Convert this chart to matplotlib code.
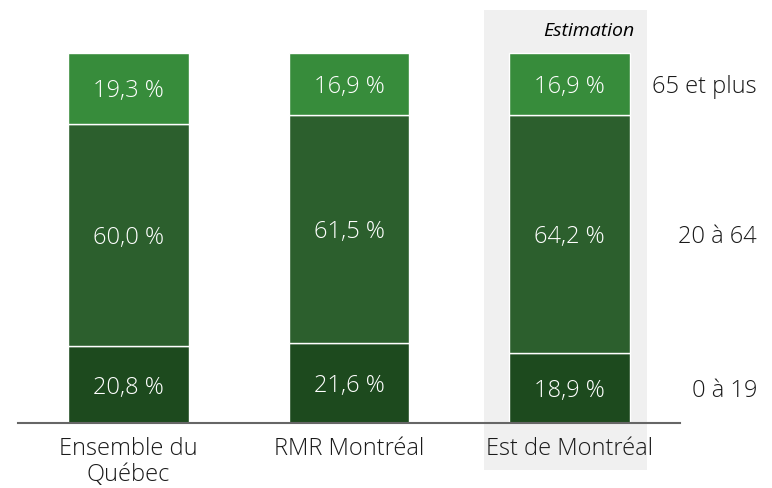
import matplotlib.pyplot as plt
from matplotlib.patches import Rectangle
import numpy as np

categories = ["Ensemble du\nQuébec", "RMR Montréal", "Est de Montréal"]
groups = ["0 à 19", "20 à 64", "65 et plus"]
age_0_19 = [20.8, 21.6, 18.9]
age_20_64 = [60.0, 61.5, 64.2]
age_65_plus = [19.3, 16.9, 16.9]

colors = ["#1d4a1e", "#2c5f2d", "#378c3b"]

plt.rcParams["font.family"] = ["Open Sans", "DejaVu Sans"]

fig = plt.figure(figsize=(7.72, 4.88), dpi=100)
ax = fig.add_axes([18 / 772, 1 - 423 / 488, 662 / 772, 413 / 488])

x = np.arange(len(categories))
series = [age_0_19, age_20_64, age_65_plus]
bottom = np.zeros(len(categories))
for vals, col in zip(series, colors):
    vals = np.array(vals)
    ax.bar(x, vals, width=0.548, bottom=bottom, color=col,
           edgecolor="white", linewidth=1, zorder=3)
    for xi, b, v in zip(x, bottom, vals):
        ax.text(xi, b + v / 2, f"{v:.1f} %".replace(".", ","),
                ha="center", va="center_baseline", color="white", fontsize=17,
                fontweight="light", zorder=4)
    bottom += vals

# labels on the right of the last bar
cum = np.cumsum([0] + [s[-1] for s in series])
for g, lo, hi in zip(groups, cum[:-1], cum[1:]):
    ax.text((757 - 18) / 662, (lo + hi) / 2, g, transform=ax.get_yaxis_transform(),
            ha="right", va="center_baseline", fontsize=17, fontweight="light",
            color="#1a1a1a", clip_on=False)

ax.set_xlim(-0.5, 2.5)
ax.set_ylim(0, 111.6)
# shaded "estimation" zone, also behind the category label
ax.add_patch(Rectangle((1.613, -12.7), 0.738, 124.3, facecolor="#f0f0f0",
                       edgecolor="none", zorder=0, clip_on=False))
ax.text(2.295, 106, "Estimation", ha="right", va="center", fontsize=14,
        style="italic", fontweight="medium", color="#000000")

ax.set_xticks(x)
ax.set_xticklabels(categories, fontsize=17, fontweight="light", color="#1a1a1a",
                   linespacing=1.12)
ax.tick_params(axis="x", length=0, pad=10)
ax.set_yticks([])
for s in ["top", "right", "left"]:
    ax.spines[s].set_visible(False)
ax.spines["bottom"].set_color("#666666")
ax.spines["bottom"].set_linewidth(1.5)
ax.spines["bottom"].set_zorder(5)

fig.savefig("out.png", dpi=100)
